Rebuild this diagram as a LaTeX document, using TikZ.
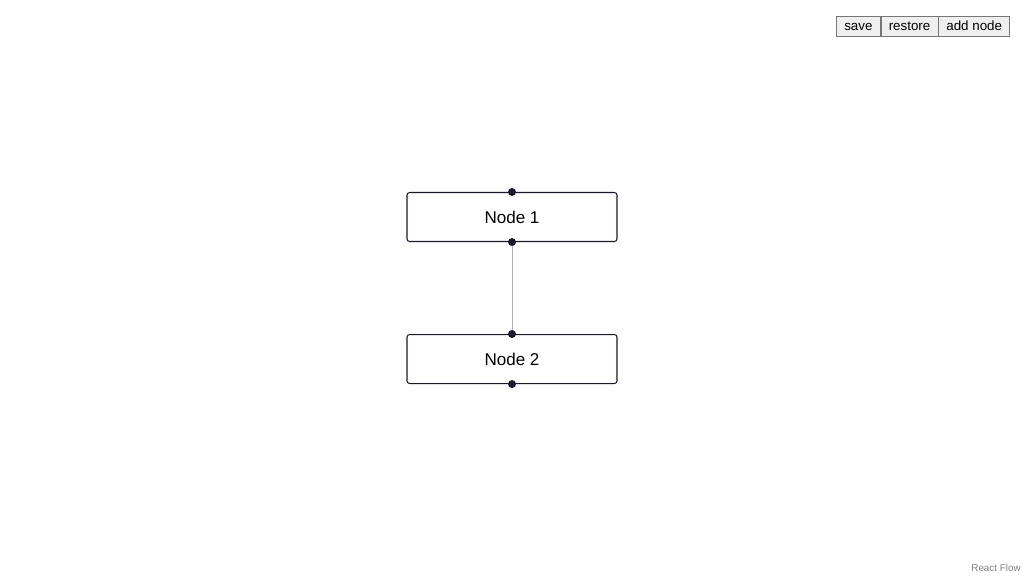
\documentclass[tikz,border=0pt]{standalone}
\usepackage{fontspec}
\setmainfont{Liberation Sans}
\usetikzlibrary{positioning}

\definecolor{handlecol}{HTML}{1A192B}
\definecolor{edgecol}{HTML}{B1B1B7}
\definecolor{btnfill}{HTML}{EFEFEF}
\definecolor{btnline}{HTML}{767676}

\begin{document}
\begin{tikzpicture}[x=0.02cm, y=-0.02cm,
		box/.style={draw=handlecol, rounded corners=1.5pt, line width=0.6pt, minimum width=4.2cm, minimum height=0.98cm, font=\fontsize{9.7}{11}\selectfont},
		handle/.style={circle, fill=handlecol, inner sep=0pt, minimum size=0.16cm},
		btn/.style={draw=btnline, fill=btnfill, line width=0.4pt, minimum height=0.4cm, inner sep=0pt, text height=1.5ex, text depth=0.5ex, font=\fontsize{7.6}{9}\selectfont}]
		\useasboundingbox (0,0) rectangle (1024,576);

		\node [box] (n1) at (512,217) {Node 1};
		\node [box, below=1.84cm of n1] (n2) {Node 2};

		\node [handle] (n1top) at (n1.north) {};
		\node [handle] (n1bot) at (n1.south) {};
		\node [handle] (n2top) at (n2.north) {};
		\node [handle] (n2bot) at (n2.south) {};

		\draw [edgecol, line width=0.5pt] (n1bot) -- (n2top);

		\node [btn, minimum width=0.88cm, anchor=north west] (save) at (836,16) {save};
		\node [btn, minimum width=1.14cm, right=0pt of save] (restore) {restore};
		\node [btn, minimum width=1.42cm, right=0pt of restore] (add) {add node};

		\node [text=gray, font=\fontsize{5.6}{7}\selectfont] (brand) at (996,568) {React Flow};
	\end{tikzpicture}
\end{document}
